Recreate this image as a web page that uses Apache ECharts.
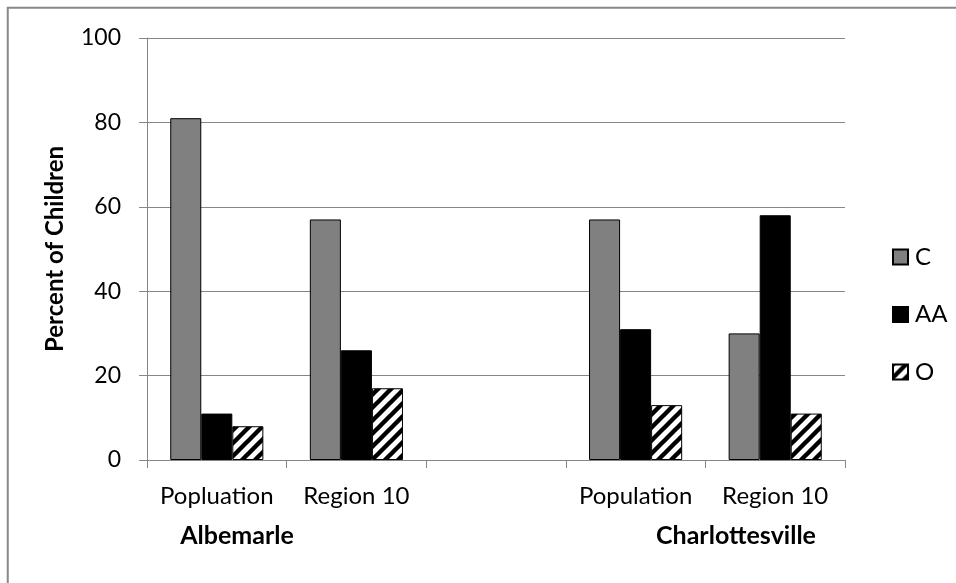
<!DOCTYPE html>
<html>
<head>
<meta charset="utf-8">
<style>
  html, body { margin: 0; padding: 0; background: #ffffff; }
  #chart { width: 956px; height: 583px; }
</style>
<script src="https://cdn.jsdelivr.net/npm/echarts@6/dist/echarts.min.js"></script>
</head>
<body>
<div id="chart"></div>
<script>
// Share of children by group, for two localities
const categories = ['Popluation', 'Region 10', '', 'Population', 'Region 10'];
const seriesNames = ['C', 'AA', 'O'];
const valuesC  = [81, 57, null, 57, 30];
const valuesAA = [11, 26, null, 31, 58];
const valuesO  = [8, 17, null, 13, 11];
const groupLabels = ['Albemarle', 'Charlottesville'];
const yMin = 0, yMax = 100, yStep = 20;

const FONT = 'Lato, "Noto Sans", sans-serif';

// Diagonal hatch pattern for the "O" bars
function makeHatch() {
  const s = 13;
  const c = document.createElement('canvas');
  c.width = s; c.height = s;
  const g = c.getContext('2d');
  g.fillStyle = '#ffffff';
  g.fillRect(0, 0, s, s);
  g.strokeStyle = '#000000';
  g.lineWidth = 4.4;
  g.beginPath();
  g.moveTo(-3, s + 3); g.lineTo(s + 3, -3);
  g.moveTo(-3, 3); g.lineTo(3, -3);
  g.moveTo(s - 3, s + 3); g.lineTo(s + 3, s - 3);
  g.stroke();
  return c;
}
const hatch = makeHatch();

const chart = echarts.init(document.getElementById('chart'), null, { renderer: 'canvas' });

const barBase = {
  type: 'bar',
  barGap: '0%',
  barCategoryGap: '33.3%',
  animation: false
};

chart.setOption({
  backgroundColor: '#ffffff',
  animation: false,
  grid: { left: 147, top: 38, width: 698, height: 422, containLabel: false },
  legend: {
    orient: 'vertical',
    left: 887,
    top: 240,
    itemWidth: 15,
    itemHeight: 15,
    itemGap: 33.5,
    icon: 'rect',
    textStyle: { fontFamily: FONT, fontSize: 24, color: '#000', lineHeight: 15, padding: [0, 0, 0, 2] },
    data: seriesNames
  },
  xAxis: {
    type: 'category',
    data: categories,
    axisLine: { show: true, lineStyle: { color: '#868686', width: 1 } },
    axisTick: { show: true, length: 8, alignWithLabel: false, lineStyle: { color: '#868686' } },
    axisLabel: { fontFamily: FONT, fontSize: 24, color: '#000', margin: 24, interval: 0 },
    splitLine: { show: false }
  },
  yAxis: {
    type: 'value',
    min: yMin,
    max: yMax,
    interval: yStep,
    name: 'Percent of Children',
    nameLocation: 'middle',
    nameRotate: 90,
    nameGap: 80,
    nameTextStyle: { fontFamily: FONT, fontSize: 24, fontWeight: 'bold', color: '#000' },
    axisLine: { show: true, lineStyle: { color: '#868686', width: 1 } },
    axisTick: { show: true, length: 8, lineStyle: { color: '#868686' } },
    axisLabel: { fontFamily: FONT, fontSize: 23, color: '#000', margin: 26 },
    splitLine: { show: true, lineStyle: { color: '#868686', width: 1 } }
  },
  series: [
    Object.assign({}, barBase, {
      name: seriesNames[0], data: valuesC,
      itemStyle: { color: '#808080', borderColor: '#000', borderWidth: 1 }
    }),
    Object.assign({}, barBase, {
      name: seriesNames[1], data: valuesAA,
      itemStyle: { color: '#000000', borderColor: '#000', borderWidth: 1 }
    }),
    Object.assign({}, barBase, {
      name: seriesNames[2], data: valuesO,
      itemStyle: { color: { image: hatch, repeat: 'repeat' }, borderColor: '#000', borderWidth: 1 }
    })
  ],
  graphic: [
    {
      type: 'rect', silent: true,
      shape: { x: 7.75, y: 7.75, width: 1200, height: 900 },
      style: { fill: 'none', stroke: '#888888', lineWidth: 2 }
    },
    {
      type: 'text', silent: true, x: 237, y: 536,
      style: { text: groupLabels[0], font: 'bold 25px ' + FONT, fill: '#000', textAlign: 'center', textVerticalAlign: 'middle' }
    },
    {
      type: 'text', silent: true, x: 736, y: 536,
      style: { text: groupLabels[1], font: 'bold 25px ' + FONT, fill: '#000', textAlign: 'center', textVerticalAlign: 'middle' }
    }
  ]
});
</script>
</body>
</html>
